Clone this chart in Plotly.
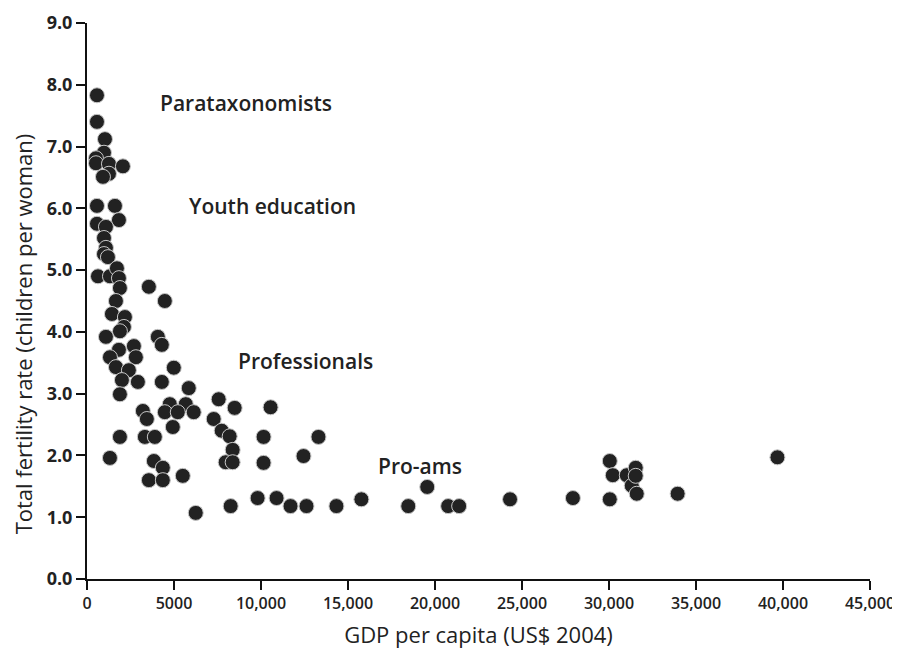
import plotly.graph_objects as go

gdp = [573, 573, 1032, 975, 516, 516, 1261, 2064, 1261, 917,
       573, 1606, 1835, 573, 1089, 975, 1089, 975, 1204, 631,
       1319, 1720, 1835, 1892, 3555, 4473, 1663, 1433, 2179, 2122,
       1892, 1089, 4071, 4300, 2695, 1835, 1319, 2810, 1663, 2408,
       4989, 2007, 2924, 4300, 5849, 1892, 3211, 3440, 4759, 5677,
       4473, 5218, 6135, 4931, 7569, 8486, 10551, 7282, 7741, 8200,
       8372, 7970, 8372, 10149, 10149, 13303, 12443, 1892, 3326, 3899,
       1319, 3842, 4358, 3555, 4358, 5505, 8257, 6250, 9805, 10895,
       11697, 12615, 14335, 15769, 18463, 19553, 20757, 21388, 24312, 27925,
       30046, 30046, 30218, 31021, 31307, 31537, 31537, 31594, 33945, 39679]
fertility = [7.83, 7.40, 7.12, 6.90, 6.81, 6.73, 6.72, 6.68, 6.56, 6.51,
             6.04, 6.04, 5.81, 5.75, 5.70, 5.52, 5.36, 5.26, 5.21, 4.90,
             4.90, 5.03, 4.87, 4.71, 4.73, 4.50, 4.50, 4.29, 4.24, 4.08,
             4.01, 3.92, 3.92, 3.79, 3.77, 3.71, 3.59, 3.59, 3.43, 3.38,
             3.42, 3.22, 3.19, 3.19, 3.09, 2.99, 2.72, 2.59, 2.83, 2.83,
             2.70, 2.70, 2.70, 2.46, 2.91, 2.77, 2.78, 2.59, 2.40, 2.31,
             2.09, 1.89, 1.89, 2.30, 1.88, 2.30, 1.99, 2.30, 2.30, 2.30,
             1.96, 1.91, 1.80, 1.60, 1.60, 1.67, 1.18, 1.07, 1.31, 1.31,
             1.18, 1.18, 1.18, 1.29, 1.18, 1.49, 1.18, 1.18, 1.29, 1.31,
             1.29, 1.91, 1.68, 1.68, 1.51, 1.80, 1.67, 1.38, 1.38, 1.97]

x_tickvals = [0, 5000, 10000, 15000, 20000, 25000, 30000, 35000, 40000, 45000]
x_ticktext = ["0", "5000", "10,000", "15,000", "20,000", "25,000",
              "30,000", "35,000", "40,000", "45,000"]
y_tickvals = [0, 1, 2, 3, 4, 5, 6, 7, 8, 9]

label_text = ["Parataxonomists", "Youth education", "Professionals", "Pro-ams"]
label_x = [9117, 10665, 12557, 19152]
label_y = [7.70, 6.04, 3.53, 1.83]

x_title = "GDP per capita (US$ 2004)"
y_title = "Total fertility rate (children per woman)"

FONT = "Open Sans"
TXT = "#222222"

fig = go.Figure()
fig.add_trace(go.Scatter(
    x=gdp, y=fertility, mode="markers",
    marker=dict(size=15, color="#222222", line=dict(color="#c8c8c8", width=1)),
    hoverinfo="x+y", showlegend=False,
))

for t, lx, ly in zip(label_text, label_x, label_y):
    fig.add_annotation(x=lx, y=ly, text=t, showarrow=False,
                       font=dict(family=FONT, size=21, color=TXT, weight=600),
                       xanchor="center", yanchor="middle")

# y-axis title as a rotated annotation (sits slightly below the plot centre)
fig.add_annotation(x=0, y=0.44, xref="paper", yref="paper", text=y_title,
                   textangle=-90, showarrow=False, xanchor="center", yanchor="middle",
                   xshift=-64, font=dict(family=FONT, size=22, color=TXT))

# page body has an 8px default margin, so the figure is offset by 8px
fig.update_layout(
    width=892, height=646,
    margin=dict(l=79, r=30, t=15, b=75),
    paper_bgcolor="white", plot_bgcolor="white",
    font=dict(family=FONT, color=TXT),
)
fig.update_xaxes(
    range=[0, 45000], tickvals=x_tickvals, ticktext=x_ticktext,
    showgrid=False, zeroline=False, showline=True, linecolor="#111111", linewidth=2,
    ticks="outside", ticklen=9, tickwidth=2, tickcolor="#111111",
    tickfont=dict(family=FONT, size=16, color=TXT, weight=600),
    title=dict(text=x_title, font=dict(family=FONT, size=22, color=TXT), standoff=14),
    automargin=False,
)
fig.update_yaxes(
    range=[0, 9], tickvals=y_tickvals, tickformat=".1f",
    showgrid=False, zeroline=False, showline=True, linecolor="#111111", linewidth=2,
    ticks="outside", ticklen=9, tickwidth=2, tickcolor="#111111",
    tickfont=dict(family=FONT, size=18, color=TXT, weight=700),
    automargin=False,
)

fig.write_html("out.html")
